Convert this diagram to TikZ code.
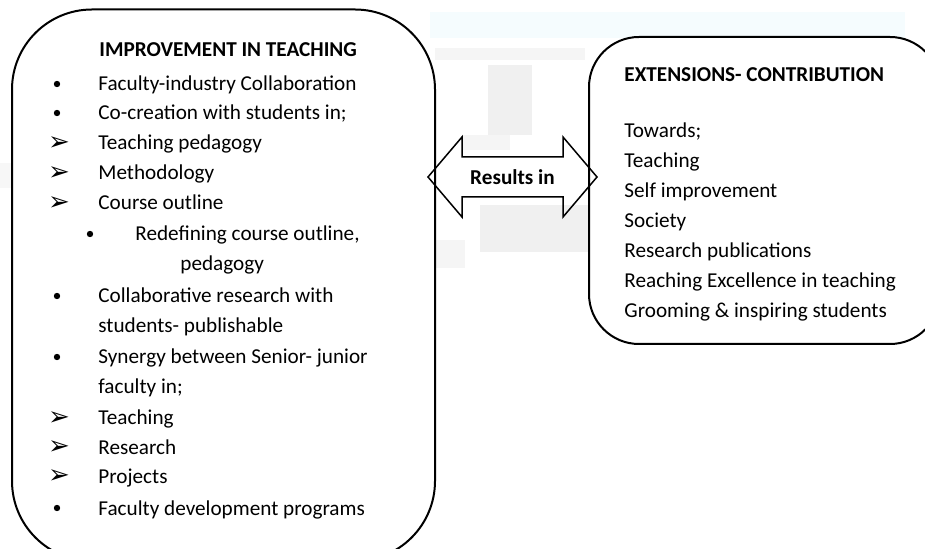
\documentclass[tikz,border=0pt]{standalone}
\usepackage{fontspec}
\setmainfont{Carlito}
\newfontfamily\dingfont{DejaVu Sans}
\usepackage{xcolor}
\usetikzlibrary{positioning}

\tikzset{
  panel/.style={draw, line width=1pt, fill=white, inner sep=0pt},
  txt/.style={anchor=base west, inner sep=0pt, font=\fontsize{10.6}{12}\selectfont},
  head/.style={txt, font=\fontsize{10.6}{12}\selectfont\bfseries},
  dot/.style={circle, fill=black, inner sep=0pt, minimum size=3.2pt},
  tri/.style={inner sep=0pt, font=\dingfont\fontsize{13}{14}\selectfont},
  smudge/.style={fill=black!6, draw=none},
}

\begin{document}
\begin{tikzpicture}[x=0.5pt, y=-0.5pt]

    % =================================================================
    % 1. KHUNG VA NEN
    % =================================================================
    \useasboundingbox (0,0) rectangle (925,549);
    \clip (0,0) rectangle (925,549);
    \fill[white] (0,0) rectangle (925,549);

    % Vet mo nen phia sau
    \fill[cyan!4] (430,12) rectangle (905,38);
    \fill[black!4] (435,48) rectangle (585,60);
    \fill[smudge] (488,65) rectangle (532,135);
    \fill[black!4] (462,135) rectangle (510,150);
    \fill[smudge] (480,205) rectangle (590,252);
    \fill[black!3] (0,163) rectangle (15,188);
    \fill[black!4] (436,240) rectangle (465,268);

    % Hai khung bo tron
    \node[panel, rounded corners=40pt, minimum width=211.5pt, minimum height=275.75pt]
        (impr) at (223.5,285.25) {};
    \node[panel, rounded corners=25pt, minimum width=175.5pt, minimum height=153.5pt]
        (ext) at (764.5,190.5) {};

    % =================================================================
    % 2. MUI TEN HAI CHIEU
    % =================================================================
    \node[head, anchor=center] (res) at (512.5,177) {Results in};
    \draw[line width=0.75pt, line join=miter]
        (428,177) -- (462,137) -- (462,157) -- (563,157) -- (563,137)
        -- (597,177) -- (563,217) -- (563,197) -- (462,197) -- (462,217) -- cycle;

    % =================================================================
    % 3. NOI DUNG KHUNG TRAI
    % =================================================================
    \node[head] (impt) at (99,57) {IMPROVEMENT IN TEACHING};

    \node[dot] (b1) at (57,84) {};
    \node[txt] (l1) at (98,91) {Faculty-industry Collaboration};
    \node[dot] (b2) at (57,113) {};
    \node[txt] (l2) at (98,120) {Co-creation with students in;};
    \node[tri] (a3) at (59,144) {➢};
    \node[txt] (l3) at (98,150) {Teaching pedagogy};
    \node[tri] (a4) at (59,174) {➢};
    \node[txt] (l4) at (98,180) {Methodology};
    \node[tri] (a5) at (59,204) {➢};
    \node[txt] (l5) at (98,210) {Course outline};
    \node[dot] (b6) at (90,234) {};
    \node[txt] (l6) at (135,241) {Redefining course outline,};
    \node[txt] (l7) at (180,271) {pedagogy};
    \node[dot] (b8) at (57,296) {};
    \node[txt] (l8) at (98,303) {Collaborative research with};
    \node[txt] (l9) at (98,333) {students- publishable};
    \node[dot] (b10) at (57,357) {};
    \node[txt] (l10) at (98,364) {Synergy between Senior- junior};
    \node[txt] (l11) at (98,394) {faculty in;};
    \node[tri] (a12) at (59,419) {➢};
    \node[txt] (l12) at (98,425) {Teaching};
    \node[tri] (a13) at (59,448) {➢};
    \node[txt] (l13) at (98,454) {Research};
    \node[tri] (a14) at (59,477) {➢};
    \node[txt] (l14) at (98,483) {Projects};
    \node[dot] (b15) at (57,508) {};
    \node[txt] (l15) at (98,515) {Faculty development programs};

    % =================================================================
    % 4. NOI DUNG KHUNG PHAI
    % =================================================================
    \node[head] (extt) at (624,82) {EXTENSIONS- CONTRIBUTION};
    \node[txt] (r1) at (624,138) {Towards;};
    \node[txt] (r2) at (624,168) {Teaching};
    \node[txt] (r3) at (624,198) {Self improvement};
    \node[txt] (r4) at (624,228) {Society};
    \node[txt] (r5) at (624,258) {Research publications};
    \node[txt] (r6) at (624,288) {Reaching Excellence in teaching};
    \node[txt] (r7) at (624,318) {Grooming \& inspiring students};

\end{tikzpicture}
\end{document}
